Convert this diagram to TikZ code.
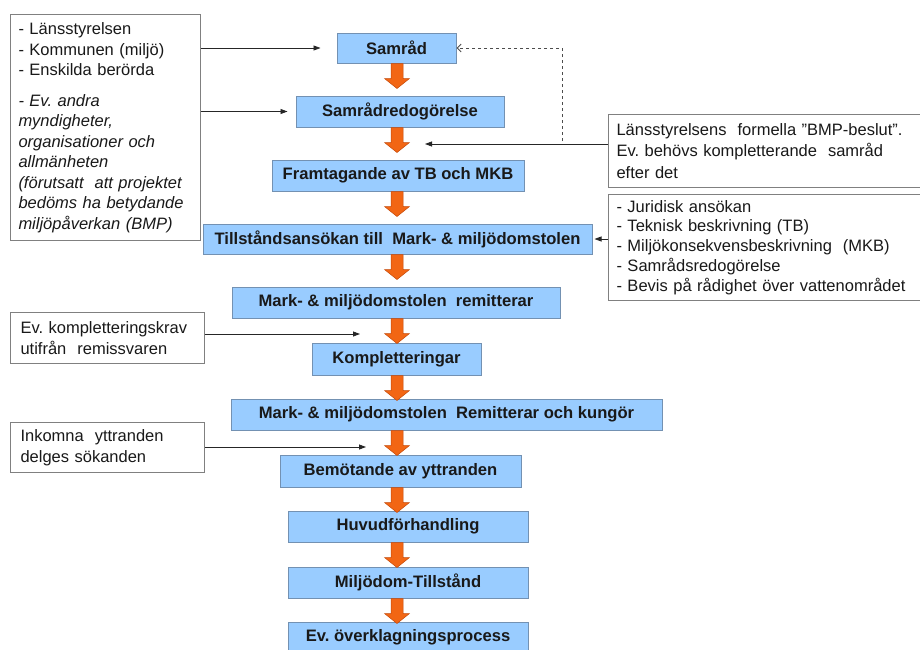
\documentclass[tikz,border=0pt]{standalone}
\usepackage{fontspec}
\setmainfont{Liberation Sans}
\frenchspacing
\usetikzlibrary{arrows.meta,calc}
\definecolor{boxblue}{RGB}{153,204,255}
\definecolor{boxedge}{RGB}{115,145,178}
\definecolor{orangef}{RGB}{242,102,20}
\definecolor{oranged}{RGB}{196,72,8}
\definecolor{greyedge}{RGB}{128,128,128}
\newcommand\oarrow[1]{%
  \path (ax |- #1.south) coordinate (oa);
  \filldraw[oarr] ($(oa)+(-6,0)$) -- ($(oa)+(-6,15)$) -- ($(oa)+(-12.5,15)$) -- ($(oa)+(0,25)$) -- ($(oa)+(12.5,15)$) -- ($(oa)+(6,15)$) -- ($(oa)+(6,0)$) -- cycle;}
\begin{document}
\begin{tikzpicture}[x=1pt,y=-1pt,
  stepbox/.style={draw=boxedge, fill=boxblue, line width=1pt, inner sep=0pt,
    font=\fontsize{16.6}{19}\selectfont\bfseries, text=black!90},
  notebox/.style={draw=greyedge, line width=1pt, fill=white, align=left,
    inner xsep=8pt, inner ysep=0pt, anchor=north west,
    font=\fontsize{16.5}{20.5}\selectfont, text=black!90},
  conn/.style={draw=black!85, line width=0.8pt, -{Triangle[length=7pt,width=5pt]}},
  dconn/.style={draw=black!70, line width=0.9pt, dash pattern=on 3.5pt off 2.5pt,
    -{Straight Barb[length=4pt,width=8pt]}},
  oarr/.style={fill=orangef, draw=oranged, line width=0.5pt, line join=miter}
]
\useasboundingbox[fill=white] (0,0) rectangle (920,649);

% note boxes
\node[notebox, text width=174pt, minimum height=226pt] (lb1) at (10,14)
 {- Länsstyrelsen\\- Kommunen (miljö)\\- Enskilda berörda\\[10pt]\itshape - Ev. andra\\myndigheter,\\organisationer och\\allmänheten\\(förutsatt~ att projektet\\bedöms ha betydande\\miljöpåverkan (BMP)};
\node[notebox, text width=174pt, minimum height=51pt, inner xsep=10pt] (lb2) at (10,312)
 {Ev. kompletteringskrav\\utifrån~ remissvaren};
\node[notebox, text width=174pt, minimum height=50pt, inner xsep=10pt] (lb3) at (10,422)
 {Inkomna~ yttranden\\delges sökanden};
\node[notebox, text width=306pt, minimum height=73pt, font=\fontsize{16.5}{21.5}\selectfont] (rb1) at (608,114)
 {Länsstyrelsens~ formella ”BMP-beslut”.\\Ev. behövs kompletterande~ samråd\\efter det};
\node[notebox, text width=306pt, minimum height=106pt, font=\fontsize{16.5}{19.8}\selectfont] (rb2) at (608,194)
 {- Juridisk ansökan\\- Teknisk beskrivning (TB)\\- Miljökonsekvensbeskrivning~ (MKB)\\- Samrådsredogörelse\\- Bevis på rådighet över vattenområdet};

% step boxes
\coordinate (ax) at (397,0);
\node[stepbox, minimum width=119pt, minimum height=30pt] (samrad) at (396.5,48) {Samråd};
\node[stepbox, minimum width=208pt, minimum height=31pt] (redog) at (400,111.5) {Samrådredogörelse};
\node[stepbox, minimum width=252pt, minimum height=31pt] (framt) at (398,175.5) {Framtagande av TB och MKB};
\node[stepbox, minimum width=389pt, minimum height=30pt] (tillst) at (397.5,239) {Tillståndsansökan till~ Mark- \& miljödomstolen};
\node[stepbox, minimum width=328pt, minimum height=31pt] (remit) at (396,302.5) {Mark- \& miljödomstolen~ remitterar};
\node[stepbox, minimum width=169pt, minimum height=32pt] (kompl) at (396.5,359) {Kompletteringar};
\node[stepbox, minimum width=431pt, minimum height=31pt] (kungor) at (446.5,414.5) {Mark- \& miljödomstolen~ Remitterar och kungör};
\node[stepbox, minimum width=241pt, minimum height=32pt] (bemot) at (400.5,471) {Bemötande av yttranden};
\node[stepbox, minimum width=240pt, minimum height=31pt] (huvud) at (408,526.5) {Huvudförhandling};
\node[stepbox, minimum width=240pt, minimum height=31pt] (miljodom) at (408,582.5) {Miljödom-Tillstånd};
\node[stepbox, minimum width=240pt, minimum height=31pt] (overkl) at (408,637.5) {Ev. överklagningsprocess};

% orange block arrows
\foreach \n in {samrad,redog,framt,tillst,remit,kompl,kungor,bemot,huvud,miljodom}{\oarrow{\n}}

% connectors
\coordinate (t1) at (425,144);
\coordinate (t2) at (360,334);
\coordinate (t3) at (366,447);
\coordinate (dstart) at (562,141);
\draw[conn, shorten >=16pt] (lb1.east |- samrad.west) -- (samrad.west);
\draw[conn, shorten >=8pt] (lb1.east |- redog.west) -- (redog.west);
\draw[conn] (rb1.west |- t1) -- (t1);
\draw[dconn] (dstart) |- (samrad.east);
\draw[conn, shorten >=2pt] (rb2.west |- tillst.east) -- (tillst.east);
\draw[conn] (lb2.east |- t2) -- (t2);
\draw[conn] (lb3.east |- t3) -- (t3);
\end{tikzpicture}
\end{document}
